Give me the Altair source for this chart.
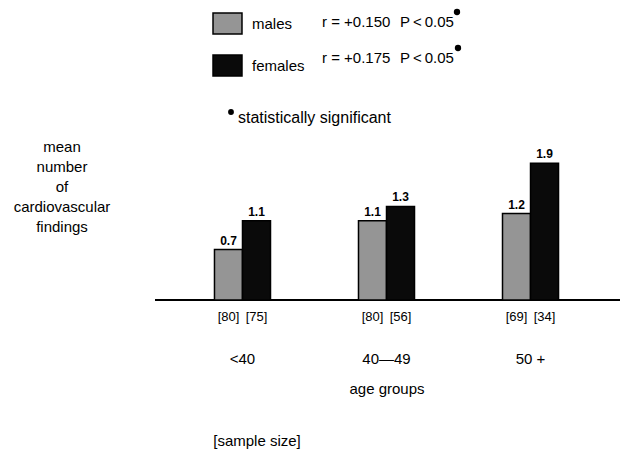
import altair as alt
import pandas as pd

# ---- data ----
age_groups = ["<40", "40\u201449", "50 +"]
sexes = ["males", "females"]
males_mean = [0.7, 1.1, 1.2]
females_mean = [1.1, 1.3, 1.9]
males_n = [80, 80, 69]
females_n = [75, 56, 34]
r_values = ["r = +0.150", "r = +0.175"]
p_values = ["P\u2009<\u20090.05", "P\u2009<\u20090.05"]
y_title_lines = ["mean", "number", "of", "cardiovascular", "findings"]

rows = []
for i, g in enumerate(age_groups):
    rows.append(dict(age=g, sex="males", mean=males_mean[i], n=f"[{males_n[i]}]"))
    rows.append(dict(age=g, sex="females", mean=females_mean[i], n=f"[{females_n[i]}]"))
df = pd.DataFrame(rows)
age_df = pd.DataFrame({"age": age_groups})

FONT = "Liberation Sans"
M = 8  # page margin: page coords -> plot coords

x_scale = alt.Scale(domain=age_groups, range=[147, 610], paddingInner=0.611, paddingOuter=0.413)
xo_scale = alt.Scale(domain=sexes, paddingInner=0, paddingOuter=0)
y_scale = alt.Scale(domain=[0, 2], range=[292, 148], nice=False, zero=True)
color_scale = alt.Scale(domain=sexes, range=["#959595", "#0a0a0a"])

base = alt.Chart(df).encode(
    x=alt.X("age:N", scale=x_scale, sort=age_groups, axis=None),
    xOffset=alt.XOffset("sex:N", scale=xo_scale, sort=sexes),
)

baseline = alt.Chart(pd.DataFrame({"mean": [0]})).mark_rule(color="black", strokeWidth=2).encode(
    y=alt.Y("mean:Q", scale=y_scale, axis=None),
    x=alt.value(147),
    x2=alt.value(612),
)

bars = base.mark_bar(stroke="black", strokeWidth=1.5, opacity=1).encode(
    y=alt.Y("mean:Q", scale=y_scale, axis=None),
    color=alt.Color(
        "sex:N",
        scale=color_scale,
        sort=sexes,
        legend=alt.Legend(
            title=None,
            orient="none",
            legendX=208,
            legendY=4,
            direction="vertical",
            symbolType="M-1.38,-1H1.38V1H-1.38Z",
            symbolSize=441,
            symbolStrokeColor="black",
            symbolStrokeWidth=1.5,
            symbolOpacity=1,
            labelFont=FONT,
            labelFontSize=15,
            labelColor="black",
            labelOffset=13,
            rowPadding=15,
            padding=0,
        ),
    ),
)

values = base.mark_text(baseline="alphabetic", dy=-5, font=FONT, fontSize=12, fontWeight="bold", color="black").encode(
    y=alt.Y("mean:Q", scale=y_scale, axis=None),
    text=alt.Text("mean:Q", format=".1f"),
)

samples = base.mark_text(baseline="middle", font=FONT, fontSize=13, color="black").encode(
    y=alt.value(317 - M),
    text="n:N",
)

ages = alt.Chart(age_df).mark_text(baseline="middle", font=FONT, fontSize=15, color="black").encode(
    x=alt.X("age:N", scale=x_scale, sort=age_groups, axis=None),
    y=alt.value(359 - M),
    text="age:N",
)


def note(text, x, y, size=15, align="left", weight="normal", baseline="middle", line_height=None):
    kw = dict(align=align, baseline=baseline, font=FONT, fontSize=size, fontWeight=weight, color="black")
    if line_height:
        kw["lineHeight"] = line_height
    return alt.Chart(pd.DataFrame({"k": [0]})).mark_text(**kw).encode(
        x=alt.value(x - M), y=alt.value(y - M), text=alt.value(text)
    )


def dot(x, y, size=40):
    return alt.Chart(pd.DataFrame({"k": [0]})).mark_point(
        shape="circle", filled=True, color="black", opacity=1, size=size
    ).encode(x=alt.value(x - M), y=alt.value(y - M))


layers = [
    baseline, bars, values, samples, ages,
    note(r_values[0], 322, 22),
    note(p_values[0], 400, 22),
    dot(457, 12),
    note(r_values[1], 322, 58),
    note(p_values[1], 400, 58),
    dot(458, 48),
    dot(231, 112, size=34),
    note("statistically  significant", 238, 118, size=16),
    note(y_title_lines, 62, 147, align="center", line_height=20),
    note("age groups", 387, 389, align="center"),
    note("[sample size]", 257, 441, align="center"),
]

chart = alt.layer(*layers).properties(
    width=612,
    height=442,
    padding=0,
    autosize=alt.AutoSizeParams(type="none"),
    background="white",
).configure_view(stroke=None)

chart.save("out.html", embed_options={"renderer": "svg", "actions": False})
